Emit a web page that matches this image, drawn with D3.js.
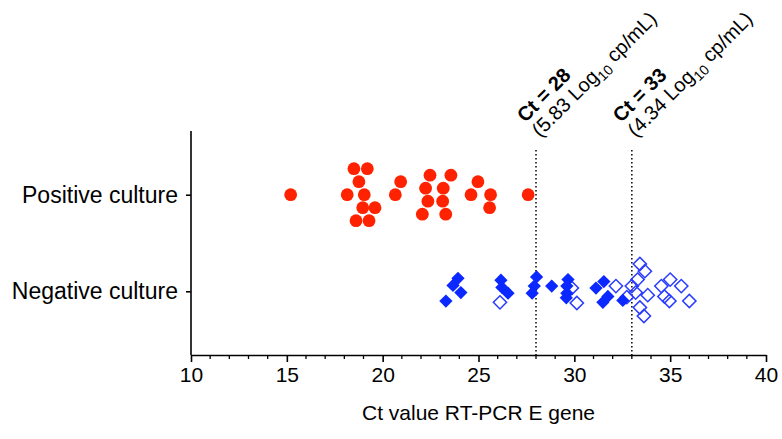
<!DOCTYPE html>
<html><head><meta charset="utf-8">
<script src="https://cdn.jsdelivr.net/npm/d3@7"></script>
<style>body{margin:0;background:#fff;} svg{display:block;font-family:"Liberation Sans",Arial,sans-serif;}</style>
</head><body><svg id="c" width="782" height="439"></svg>
<script>
const categories = ["Positive culture", "Negative culture"];
const xTicks = [10, 15, 20, 25, 30, 35, 40];
const xTitle = "Ct value RT-PCR E gene";
// Positive culture: Ct values and beeswarm lane
const posCt   = [15.20, 18.50, 19.20, 18.76, 18.15, 19.04, 18.96, 19.60, 18.61, 19.29, 20.94, 20.66, 22.47, 23.56, 22.24, 23.16, 22.36, 23.13, 22.07, 23.29, 24.97, 24.61, 25.63, 25.58, 27.59];
const posLane = [0, -4, -4, -2, 0, 0, 2, 2, 4, 4, -2, 0, -3, -3, -1, -1, 1, 1, 3, 3, -2, 0, 0, 2, 0];
// Negative culture, filled diamonds
const negFillCt   = [23.93, 23.67, 24.08, 23.30, 26.17, 26.22, 26.54, 28.03, 27.91, 27.80, 28.82, 29.67, 29.61, 29.61, 29.58, 31.13, 31.54, 31.49, 31.75, 32.53];
const negFillLane = [-2, -0.9, 0.2, 1.5, -1.7, -0.6, 0.3, -2.2, -0.8, 0.3, -0.8, -1.8, -0.8, 0.3, 1.0, -0.5, -1.5, 1.7, 0.8, 1.4];
// Negative culture, open diamonds
const negOpenCt   = [26.12, 29.87, 30.13, 32.17, 32.74, 33.00, 33.42, 33.68, 33.30, 33.20, 33.83, 33.42, 33.63, 34.54, 35.00, 35.58, 34.70, 34.96, 36.00];
const negOpenLane = [1.7, -0.5, 1.8, -0.8, 0.9, -0.8, -4.2, -3.1, -1.8, 0.2, 0.6, 2.5, 3.8, -0.8, -1.8, -0.8, 0.8, 1.5, 1.5];
// Reference lines
const refCt = [28, 33];
const refLine1 = ["Ct = 28", "Ct = 33"];
const refLog = ["5.83", "4.34"];

const svg = d3.select("#c");
const x = d3.scaleLinear().domain([10, 40]).range([191, 766]);
const y = d3.scalePoint().domain(categories).range([131, 355]).padding(0.66);
const lane = d3.scaleLinear().domain([0, 1]).range([0, 6.5]);
const axisY = 355;

// reference dotted lines
svg.selectAll("line.ref").data(refCt).join("line")
  .attr("x1", d => x(d)).attr("x2", d => x(d))
  .attr("y1", 150).attr("y2", axisY)
  .attr("stroke", "#000").attr("stroke-width", 1.5).attr("stroke-dasharray", "1.5,2.5");

// x axis
const xAxis = svg.append("g").attr("transform", `translate(0,${axisY})`)
  .call(d3.axisBottom(x).tickValues(xTicks).tickSize(7).tickSizeOuter(0).tickPadding(5));
xAxis.select(".domain").attr("stroke-width", 1.6);
xAxis.selectAll(".tick line").attr("stroke-width", 1.6);
xAxis.selectAll("text").attr("font-size", 21).attr("fill", "#000").attr("font-family", "Liberation Sans, Arial");
const minor = d3.range(10, 41, 1).filter(v => v % 5 !== 0);
svg.append("g").selectAll("line").data(minor).join("line")
  .attr("x1", d => x(d)).attr("x2", d => x(d)).attr("y1", axisY).attr("y2", axisY + 4)
  .attr("stroke", "#000").attr("stroke-width", 1.3);

// y axis
const yAxis = svg.append("g").attr("transform", `translate(${x(10)},0)`)
  .call(d3.axisLeft(y).tickSize(5).tickSizeOuter(0).tickPadding(8));
yAxis.select(".domain").attr("d", `M0,131V${axisY}`).attr("stroke-width", 1.6);
yAxis.selectAll(".tick line").attr("stroke-width", 1.6);
yAxis.selectAll("text").attr("font-size", 23).attr("fill", "#000").attr("font-family", "Liberation Sans, Arial");

// x title
svg.append("text").attr("x", (x(10) + x(40)) / 2).attr("y", 420)
  .attr("text-anchor", "middle").attr("font-size", 21).text(xTitle);

// positive points
const posData = posCt.map((v, i) => ({ct: v, lane: posLane[i]}));
svg.append("g").selectAll("circle").data(posData).join("circle")
  .attr("cx", d => x(d.ct)).attr("cy", d => y(categories[0]) + lane(d.lane))
  .attr("r", 6.4).attr("fill", "#ff2200");

// negative points
const diamond = d3.symbol(d3.symbolSquare).size(88)();
const openData = negOpenCt.map((v, i) => ({ct: v, lane: negOpenLane[i]}));
const fillData = negFillCt.map((v, i) => ({ct: v, lane: negFillLane[i]}));
svg.append("g").selectAll("path").data(openData).join("path")
  .attr("d", diamond)
  .attr("transform", d => `translate(${x(d.ct)},${y(categories[1]) + lane(d.lane)}) rotate(45)`)
  .attr("fill", "none").attr("stroke", "#2a3cff").attr("stroke-width", 1.5);
svg.append("g").selectAll("path").data(fillData).join("path")
  .attr("d", diamond)
  .attr("transform", d => `translate(${x(d.ct)},${y(categories[1]) + lane(d.lane)}) rotate(45)`)
  .attr("fill", "#0a28ff");

// rotated annotations
refCt.forEach((v, i) => {
  const g = svg.append("g").attr("transform", `translate(${x(v) + 4},138) rotate(-45)`);
  g.append("text").attr("x", 0).attr("y", -21).attr("font-size", 20).attr("font-weight", "bold").text(refLine1[i]);
  const t = g.append("text").attr("x", 0).attr("y", 0).attr("font-size", 20);
  t.append("tspan").text(`(${refLog[i]} Log`);
  t.append("tspan").attr("font-size", 14).attr("dy", 5).text("10");
  t.append("tspan").attr("dy", -5).text(" cp/mL)");
});
</script></body></html>
